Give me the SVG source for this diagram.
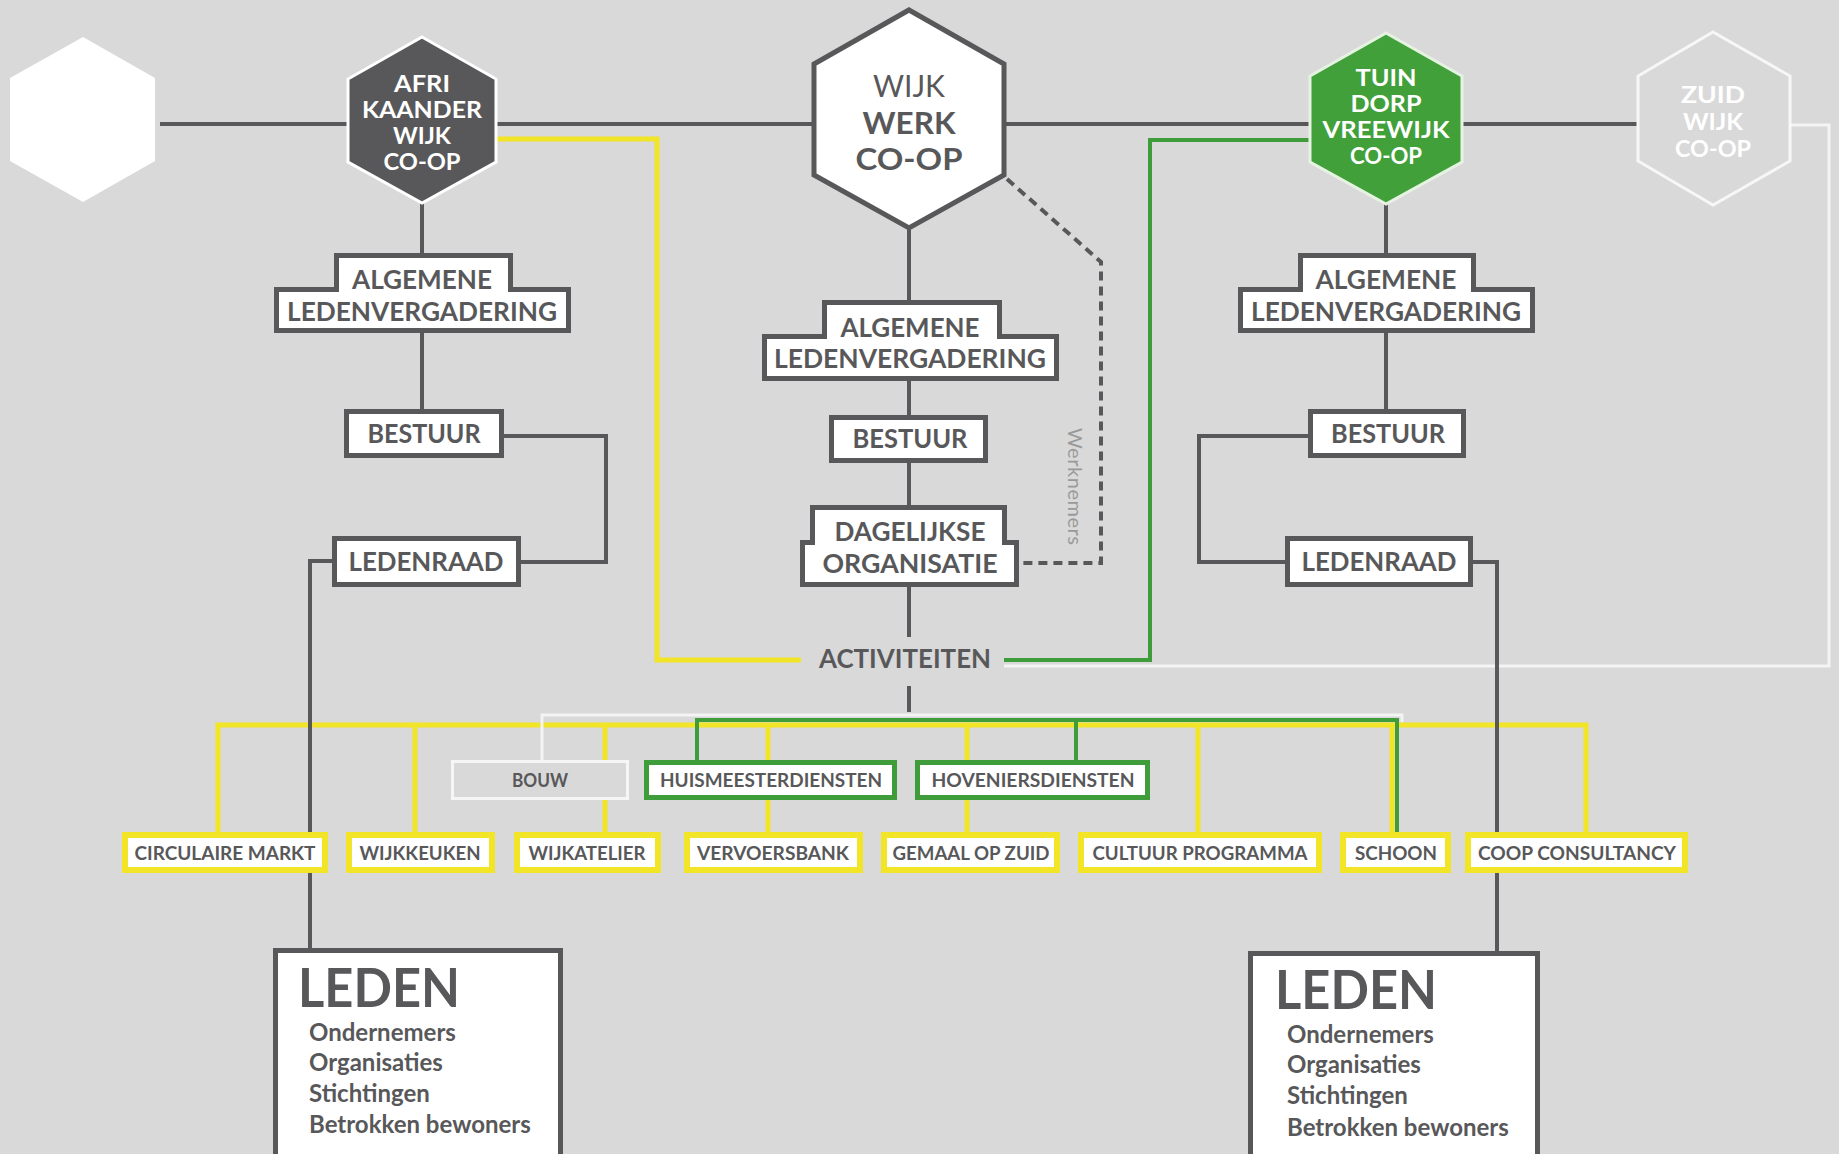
<svg xmlns="http://www.w3.org/2000/svg" width="1839" height="1154" viewBox="0 0 1839 1154">
<style>
text { font-family: Lato, "Liberation Sans", sans-serif; }
.lbl { font-weight:700; fill:#58585a; text-anchor:middle; font-size:26px; }
.hx { font-weight:700; fill:#fff; text-anchor:middle; font-size:22px; }
.act { font-weight:700; fill:#58585a; text-anchor:middle; font-size:19px; }
.sub { font-weight:700; fill:#58585a; font-size:24px; }
.big { font-weight:700; fill:#58585a; font-size:53px; }
.box { fill:#fff; stroke:#58585a; stroke-width:5; }
.ybox { fill:#fff; stroke:#f2e426; stroke-width:6; }
.gbox { fill:#fff; stroke:#3f9c3a; stroke-width:5; }
.gl { fill:none; stroke:#58585a; stroke-width:4; }
.dl { fill:none; stroke:#58585a; stroke-width:4; stroke-dasharray:9 6; }
.yl { fill:none; stroke:#f2e426; stroke-width:5; }
.grl { fill:none; stroke:#3f9c3a; stroke-width:4; }
.wl { fill:none; stroke:#f4f4f4; stroke-width:3; }
</style>
<rect x="0" y="0" width="1839" height="1154" fill="#d9d9d9"/>

<g id="connectors">
  <path class="gl" d="M160,124 H1638"/>
  <path class="yl" d="M496,139 H657 V660 H801"/>
  <path class="grl" d="M1310,140 H1150 V660 H1004"/>
  <path class="wl" d="M1790,125 H1829 V666 H1004"/>
  <path class="dl" d="M1007,179 L1101,262 V563 H1021"/>
  <path class="gl" d="M422,203 V253 M422,333 V409"/>
  <path class="gl" d="M504,436 H606 V562 H521"/>
  <path class="gl" d="M909,230 V300 M909,381 V415 M909,463 V505 M909,587 V637 M909,686 V712"/>
  <path class="gl" d="M1386,204 V253 M1386,333 V409"/>
  <path class="gl" d="M1308,436 H1199 V562 H1285"/>
  <path class="yl" d="M218,832 V725 H1586 V832 M415,725 V832 M605,725 V832 M768,725 V832 M967,725 V832 M1198,725 V832 M1392,725 V832"/>
  <path class="grl" d="M697,760 V720 H1397 V832 M1076,720 V760"/>
  <path class="wl" d="M542,760 V715 H1402 V722"/>
  <path class="gl" d="M332,561 H310 V948"/>
  <path class="gl" d="M1473,562 H1497 V951"/>
</g>

<g id="hex-blank">
  <polygon points="83,37 155,78 155,161 83,202 10,161 10,78" fill="#ffffff"/>
</g>

<g id="hex-afrikaanderwijk">
  <polygon points="422,37 496,79 496,162 422,203 348,162 348,79" fill="#58585a" stroke="#ffffff" stroke-width="3"/>
  <text class="hx" x="422" y="92" textLength="56" lengthAdjust="spacingAndGlyphs">AFRI</text>
  <text class="hx" x="422" y="118" textLength="120" lengthAdjust="spacingAndGlyphs">KAANDER</text>
  <text class="hx" x="422" y="144" textLength="58" lengthAdjust="spacingAndGlyphs">WIJK</text>
  <text class="hx" x="422" y="170" textLength="77" lengthAdjust="spacingAndGlyphs">CO-OP</text>
</g>

<g id="hex-wijkwerk">
  <polygon points="909,10 1004,64 1004,175 909,228 814,175 814,64" fill="#ffffff" stroke="#58585a" stroke-width="5"/>
  <text x="909" y="97" text-anchor="middle" font-size="31" font-weight="400" fill="#58585a" textLength="72" lengthAdjust="spacingAndGlyphs">WIJK</text>
  <text x="909" y="134" text-anchor="middle" font-size="31" font-weight="700" fill="#58585a" textLength="93" lengthAdjust="spacingAndGlyphs">WERK</text>
  <text x="909" y="170" text-anchor="middle" font-size="31" font-weight="700" fill="#58585a" textLength="107" lengthAdjust="spacingAndGlyphs">CO-OP</text>
</g>

<g id="hex-tuindorp">
  <polygon points="1386,33 1462,76 1462,162 1386,204 1310,162 1310,76" fill="#41a03a" stroke="#e6f3e2" stroke-width="3"/>
  <text class="hx" x="1386" y="86" textLength="61" lengthAdjust="spacingAndGlyphs">TUIN</text>
  <text class="hx" x="1386" y="112" textLength="71" lengthAdjust="spacingAndGlyphs">DORP</text>
  <text class="hx" x="1386" y="138" textLength="127" lengthAdjust="spacingAndGlyphs">VREEWIJK</text>
  <text class="hx" x="1386" y="164" textLength="72" lengthAdjust="spacingAndGlyphs">CO-OP</text>
</g>

<g id="hex-zuidwijk">
  <polygon points="1713,32 1790,76 1790,161 1713,205 1638,161 1638,76" fill="none" stroke="#f7f7f7" stroke-width="3"/>
  <text class="hx" x="1713" y="103" fill="#f4f4f4" textLength="64" lengthAdjust="spacingAndGlyphs">ZUID</text>
  <text class="hx" x="1713" y="130" fill="#f4f4f4" textLength="60" lengthAdjust="spacingAndGlyphs">WIJK</text>
  <text class="hx" x="1713" y="157" fill="#f4f4f4" textLength="76" lengthAdjust="spacingAndGlyphs">CO-OP</text>
</g>

<g id="alv-left">
  <polygon class="box" points="336.5,255.5 510.5,255.5 510.5,289.5 568.5,289.5 568.5,330.5 276.5,330.5 276.5,289.5 336.5,289.5"/>
  <text class="lbl" x="422" y="289" textLength="140" lengthAdjust="spacingAndGlyphs">ALGEMENE</text>
  <text class="lbl" x="422" y="321" textLength="270" lengthAdjust="spacingAndGlyphs">LEDENVERGADERING</text>
</g>
<g id="bestuur-left">
  <rect class="box" x="346.5" y="411.5" width="155" height="44"/>
  <text class="lbl" x="424" y="443" textLength="113" lengthAdjust="spacingAndGlyphs">BESTUUR</text>
</g>
<g id="ledenraad-left">
  <rect class="box" x="334.5" y="538.5" width="184" height="46"/>
  <text class="lbl" x="426" y="571" textLength="155" lengthAdjust="spacingAndGlyphs">LEDENRAAD</text>
</g>

<g id="alv-middle">
  <polygon class="box" points="824.5,302.5 999.5,302.5 999.5,336.5 1056.5,336.5 1056.5,378.5 764.5,378.5 764.5,336.5 824.5,336.5"/>
  <text class="lbl" x="910" y="337" textLength="139" lengthAdjust="spacingAndGlyphs">ALGEMENE</text>
  <text class="lbl" x="910" y="368" textLength="272" lengthAdjust="spacingAndGlyphs">LEDENVERGADERING</text>
</g>
<g id="bestuur-middle">
  <rect class="box" x="831.5" y="417.5" width="154" height="43"/>
  <text class="lbl" x="910" y="448" textLength="115" lengthAdjust="spacingAndGlyphs">BESTUUR</text>
</g>
<g id="dagelijkse-organisatie">
  <polygon class="box" points="812.5,507.5 1004.5,507.5 1004.5,542.5 1016.5,542.5 1016.5,584.5 802.5,584.5 802.5,542.5 812.5,542.5"/>
  <text class="lbl" x="910" y="541" textLength="151" lengthAdjust="spacingAndGlyphs">DAGELIJKSE</text>
  <text class="lbl" x="910" y="573" textLength="175" lengthAdjust="spacingAndGlyphs">ORGANISATIE</text>
</g>
<g id="activiteiten">
  <text class="lbl" x="905" y="668" textLength="172" lengthAdjust="spacingAndGlyphs">ACTIVITEITEN</text>
</g>
<g id="werknemers">
  <text x="1068" y="428" transform="rotate(90 1068 428)" font-size="20" font-weight="400" fill="#9a9a9a" textLength="117">Werknemers</text>
</g>

<g id="alv-right">
  <polygon class="box" points="1300.5,255.5 1473.5,255.5 1473.5,289.5 1532.5,289.5 1532.5,330.5 1240.5,330.5 1240.5,289.5 1300.5,289.5"/>
  <text class="lbl" x="1386" y="289" textLength="141" lengthAdjust="spacingAndGlyphs">ALGEMENE</text>
  <text class="lbl" x="1386" y="321" textLength="270" lengthAdjust="spacingAndGlyphs">LEDENVERGADERING</text>
</g>
<g id="bestuur-right">
  <rect class="box" x="1310.5" y="411.5" width="153" height="44"/>
  <text class="lbl" x="1388" y="443" textLength="114" lengthAdjust="spacingAndGlyphs">BESTUUR</text>
</g>
<g id="ledenraad-right">
  <rect class="box" x="1287.5" y="538.5" width="183" height="46"/>
  <text class="lbl" x="1379" y="571" textLength="155" lengthAdjust="spacingAndGlyphs">LEDENRAAD</text>
</g>

<g id="bouw">
  <rect x="452.5" y="761.5" width="175" height="37" fill="#d9d9d9" stroke="#f6f6f6" stroke-width="3"/>
  <text class="act" x="540" y="787" textLength="56" lengthAdjust="spacingAndGlyphs">BOUW</text>
</g>
<g id="huismeesterdiensten">
  <rect class="gbox" x="646.5" y="762.5" width="248" height="35"/>
  <text class="act" x="771" y="787" textLength="222" lengthAdjust="spacingAndGlyphs">HUISMEESTERDIENSTEN</text>
</g>
<g id="hoveniersdiensten">
  <rect class="gbox" x="917.5" y="762.5" width="230" height="35"/>
  <text class="act" x="1033" y="787" textLength="203" lengthAdjust="spacingAndGlyphs">HOVENIERSDIENSTEN</text>
</g>

<g id="circulaire-markt">
  <rect class="ybox" x="125" y="835" width="200" height="35"/>
  <text class="act" x="225" y="860" textLength="181" lengthAdjust="spacingAndGlyphs">CIRCULAIRE MARKT</text>
</g>
<g id="wijkkeuken">
  <rect class="ybox" x="349" y="835" width="143" height="35"/>
  <text class="act" x="420" y="860" textLength="121" lengthAdjust="spacingAndGlyphs">WIJKKEUKEN</text>
</g>
<g id="wijkatelier">
  <rect class="ybox" x="517" y="835" width="141" height="35"/>
  <text class="act" x="587" y="860" textLength="117" lengthAdjust="spacingAndGlyphs">WIJKATELIER</text>
</g>
<g id="vervoersbank">
  <rect class="ybox" x="687" y="835" width="173" height="35"/>
  <text class="act" x="773" y="860" textLength="152" lengthAdjust="spacingAndGlyphs">VERVOERSBANK</text>
</g>
<g id="gemaal-op-zuid">
  <rect class="ybox" x="884" y="835" width="173" height="35"/>
  <text class="act" x="971" y="860" textLength="157" lengthAdjust="spacingAndGlyphs">GEMAAL OP ZUID</text>
</g>
<g id="cultuur-programma">
  <rect class="ybox" x="1081" y="835" width="238" height="35"/>
  <text class="act" x="1200" y="860" textLength="215" lengthAdjust="spacingAndGlyphs">CULTUUR PROGRAMMA</text>
</g>
<g id="schoon">
  <rect class="ybox" x="1343" y="835" width="105" height="35"/>
  <text class="act" x="1396" y="860" textLength="82" lengthAdjust="spacingAndGlyphs">SCHOON</text>
</g>
<g id="coop-consultancy">
  <rect class="ybox" x="1468" y="835" width="217" height="35"/>
  <text class="act" x="1577" y="860" textLength="198" lengthAdjust="spacingAndGlyphs">COOP CONSULTANCY</text>
</g>

<g id="leden-left">
  <rect class="box" x="275.5" y="950.5" width="285" height="220"/>
  <text class="big" x="298" y="1007" textLength="162" lengthAdjust="spacingAndGlyphs">LEDEN</text>
  <text class="sub" x="309" y="1041">Ondernemers</text>
  <text class="sub" x="309" y="1071">Organisaties</text>
  <text class="sub" x="309" y="1102">Stichtingen</text>
  <text class="sub" x="309" y="1133">Betrokken bewoners</text>
</g>
<g id="leden-right">
  <rect class="box" x="1250.5" y="953.5" width="287" height="220"/>
  <text class="big" x="1275" y="1009" textLength="162" lengthAdjust="spacingAndGlyphs">LEDEN</text>
  <text class="sub" x="1287" y="1043">Ondernemers</text>
  <text class="sub" x="1287" y="1073">Organisaties</text>
  <text class="sub" x="1287" y="1104">Stichtingen</text>
  <text class="sub" x="1287" y="1136">Betrokken bewoners</text>
</g>
</svg>
